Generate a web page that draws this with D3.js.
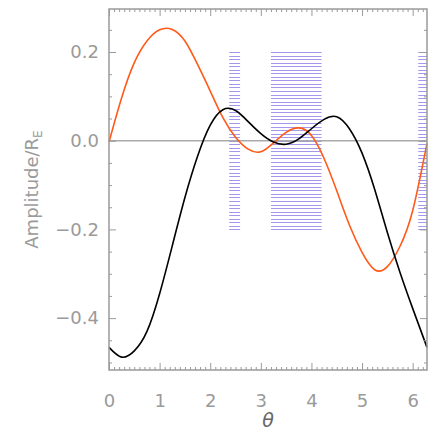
<!DOCTYPE html>
<html>
<head>
<meta charset="utf-8">
<script src="https://cdn.jsdelivr.net/npm/d3@7"></script>
<style>
  body { margin: 0; background: #fff; }
  svg text { font-family: "DejaVu Sans", sans-serif; fill: #9a9a9a; }
</style>
</head>
<body>
<div id="chart"></div>
<script>
'use strict';

var width = 436;
var height = 436;
var margin = {top: 9, right: 9, bottom: 66, left: 109};

// theta samples and the two curves
var theta = [0, 0.25, 0.5, 0.75, 1.0, 1.25, 1.5, 1.75, 2.0, 2.25, 2.5, 2.75, 3.0, 3.25, 3.5, 3.75, 4.0, 4.25, 4.5, 4.75, 5.0, 5.25, 5.5, 5.75, 6.0, 6.283];
var orange = [-0.003, 0.097, 0.176, 0.225, 0.25, 0.251, 0.225, 0.172, 0.112, 0.052, 0.008, -0.019, -0.025, -0.005, 0.019, 0.029, 0.012, -0.04, -0.113, -0.19, -0.252, -0.291, -0.284, -0.238, -0.158, -0.006];
var black = [-0.466, -0.488, -0.474, -0.43, -0.345, -0.237, -0.128, -0.035, 0.035, 0.07, 0.068, 0.043, 0.016, -0.003, -0.008, 0.004, 0.027, 0.048, 0.054, 0.027, -0.028, -0.11, -0.207, -0.297, -0.378, -0.466];

// hatched theta intervals and their amplitude extent
var hatchRanges = [[2.375, 2.59], [3.2, 4.2], [6.11, 6.283]];
var hatchExtent = [-0.2, 0.2];

var xMajor = [0, 1, 2, 3, 4, 5, 6];
var yMajor = [-0.4, -0.2, 0.0, 0.2];

var w = width - margin.left - margin.right;
var h = height - margin.top - margin.bottom;

var x = d3.scaleLinear().domain([0, 2 * Math.PI]).range([0, w]);
var y = d3.scaleLinear().domain([-0.517, 0.297]).range([h, 0]);

var svg = d3.select('#chart').append('svg')
  .attr('width', width)
  .attr('height', height);

var g = svg.append('g')
  .attr('transform', 'translate(' + margin.left + ',' + margin.top + ')');

// hatching
var hatchLines = d3.range(hatchExtent[0], hatchExtent[1] + 0.0001, 0.008);
hatchRanges.forEach(function (r) {
  g.append('g').selectAll('line')
    .data(hatchLines)
    .enter().append('line')
    .attr('x1', x(r[0]))
    .attr('x2', x(r[1]))
    .attr('y1', function (d) { return Math.round(y(d)) + 0.5; })
    .attr('y2', function (d) { return Math.round(y(d)) + 0.5; })
    .attr('stroke', '#a696ee')
    .attr('stroke-width', 1);
});

// zero line
g.append('line')
  .attr('x1', 0).attr('x2', w)
  .attr('y1', y(0)).attr('y2', y(0))
  .attr('stroke', '#aaaaaa')
  .attr('stroke-width', 1.5);

var line = d3.line()
  .curve(d3.curveNatural)
  .x(function (d) { return x(d[0]); })
  .y(function (d) { return y(d[1]); });

g.append('path')
  .datum(d3.zip(theta, orange))
  .attr('d', line)
  .attr('fill', 'none')
  .attr('stroke', '#ff5a19')
  .attr('stroke-width', 1.6);

g.append('path')
  .datum(d3.zip(theta, black))
  .attr('d', line)
  .attr('fill', 'none')
  .attr('stroke', '#000')
  .attr('stroke-width', 1.6);

// frame and ticks (inward, all four sides)
var axisColor = '#9a9a9a';
var xMinor = d3.range(0, 6.25, 0.1).filter(function (v) { return Math.abs(v - Math.round(v)) > 0.01; });
var yMinor = d3.range(-0.5, 0.30, 0.05).filter(function (v) {
  return yMajor.every(function (m) { return Math.abs(m - v) > 0.01; });
});

function minorAxis(axis, values) {
  return axis.tickValues(values).tickSize(-3).tickFormat('');
}

g.append('g').attr('transform', 'translate(0,' + h + ')')
  .call(minorAxis(d3.axisBottom(x), xMinor));
g.append('g').attr('transform', 'translate(0,' + h + ')')
  .call(d3.axisBottom(x).tickValues(xMajor).tickSize(-7).tickPadding(24).tickFormat(d3.format('d')));
g.append('g')
  .call(minorAxis(d3.axisTop(x), xMinor));
g.append('g')
  .call(d3.axisTop(x).tickValues(xMajor).tickSize(-7).tickFormat(''));

g.append('g')
  .call(minorAxis(d3.axisLeft(y), yMinor));
g.append('g')
  .call(d3.axisLeft(y).tickValues(yMajor).tickSize(-7).tickPadding(10)
    .tickFormat(function (d) { return d3.format('.1f')(d).replace('-', '\u2212'); }));
g.append('g').attr('transform', 'translate(' + w + ',0)')
  .call(minorAxis(d3.axisRight(y), yMinor));
g.append('g').attr('transform', 'translate(' + w + ',0)')
  .call(d3.axisRight(y).tickValues(yMajor).tickSize(-7).tickFormat(''));

g.selectAll('.domain').remove();
g.selectAll('.tick line').attr('stroke', axisColor).attr('stroke-width', 1);
g.selectAll('.tick text').attr('font-size', 18).style('fill', axisColor);

g.append('rect')
  .attr('x', 0).attr('y', 0).attr('width', w).attr('height', h)
  .attr('fill', 'none')
  .attr('stroke', axisColor)
  .attr('stroke-width', 1.5);

// axis titles
svg.append('text')
  .attr('x', margin.left + w / 2)
  .attr('y', 427)
  .attr('text-anchor', 'middle')
  .attr('font-size', 19)
  .attr('font-style', 'italic')
  .style('fill', '#666')
  .text('\u03b8');

var yt = svg.append('text')
  .attr('transform', 'translate(38,' + (margin.top + h / 2) + ') rotate(-90)')
  .attr('text-anchor', 'middle')
  .attr('font-size', 18);
yt.append('tspan').text('Amplitude/R');
yt.append('tspan').attr('font-size', 12).attr('dy', 4).text('E');
</script>
</body>
</html>
